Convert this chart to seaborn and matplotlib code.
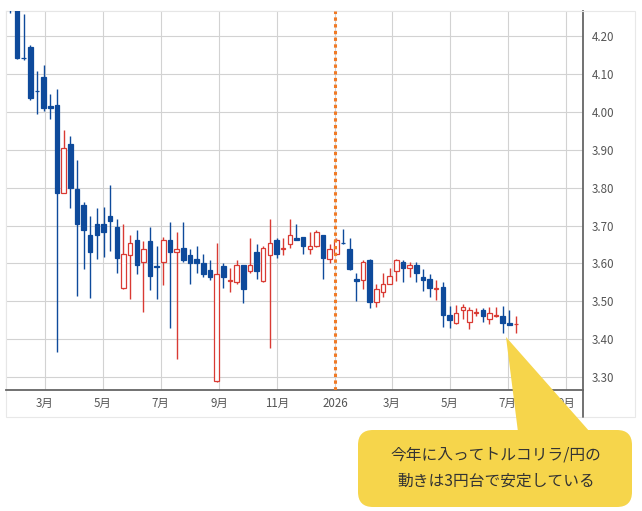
import pandas as pd
import matplotlib
matplotlib.use("Agg")
import matplotlib.pyplot as plt
from matplotlib.patches import FancyBboxPatch, Polygon, Rectangle
from matplotlib.lines import Line2D
import seaborn as sns

# Data: weekly candles (TRY/JPY)
start_week = "2025-01-24"
open_ = [4.34, 4.30, 4.143, 4.171, 4.056, 4.092, 4.016, 4.018, 3.787, 3.916,
         3.797, 3.753, 3.674, 3.703, 3.705, 3.726, 3.697, 3.534, 3.621, 3.663,
         3.605, 3.658, 3.593, 3.603, 3.661, 3.629, 3.640, 3.621, 3.611, 3.600,
         3.582, 3.289, 3.592, 3.554, 3.550, 3.595, 3.579, 3.629, 3.553, 3.621,
         3.661, 3.639, 3.650, 3.668, 3.671, 3.637, 3.647, 3.676, 3.611, 3.626,
         3.655, 3.637, 3.558, 3.555, 3.608, 3.497, 3.524, 3.545, 3.579, 3.603,
         3.587, 3.597, 3.563, 3.558, 3.533, 3.537, 3.463, 3.442, 3.476, 3.445,
         3.470, 3.476, 3.453, 3.462, 3.461, 3.442, 3.439]
high = [4.38, 4.31, 4.258, 4.176, 4.108, 4.124, 4.047, 4.061, 3.953, 3.937,
        3.874, 3.761, 3.724, 3.747, 3.750, 3.808, 3.718, 3.705, 3.676, 3.687,
        3.658, 3.697, 3.647, 3.671, 3.708, 3.682, 3.708, 3.637, 3.645, 3.624,
        3.608, 3.653, 3.600, 3.587, 3.608, 3.597, 3.666, 3.650, 3.645, 3.716,
        3.668, 3.668, 3.716, 3.703, 3.671, 3.684, 3.687, 3.676, 3.650, 3.668,
        3.692, 3.668, 3.576, 3.608, 3.611, 3.545, 3.574, 3.589, 3.611, 3.608,
        3.603, 3.603, 3.584, 3.571, 3.555, 3.550, 3.487, 3.490, 3.492, 3.484,
        3.482, 3.482, 3.484, 3.484, 3.487, 3.476, 3.461]
low = [4.26, 4.14, 4.138, 4.032, 3.995, 4.003, 3.982, 3.366, 3.785, 3.745,
       3.513, 3.584, 3.508, 3.611, 3.618, 3.632, 3.576, 3.532, 3.505, 3.571,
       3.471, 3.529, 3.505, 3.542, 3.429, 3.347, 3.605, 3.547, 3.576, 3.563,
       3.555, 3.287, 3.534, 3.524, 3.545, 3.495, 3.574, 3.558, 3.550, 3.376,
       3.613, 3.621, 3.640, 3.661, 3.626, 3.626, 3.642, 3.558, 3.600, 3.621,
       3.650, 3.582, 3.500, 3.532, 3.482, 3.484, 3.511, 3.545, 3.553, 3.550,
       3.563, 3.550, 3.526, 3.511, 3.503, 3.432, 3.429, 3.439, 3.453, 3.426,
       3.461, 3.445, 3.439, 3.458, 3.416, 3.437, 3.416]
close = [4.29, 4.142, 4.141, 4.037, 4.054, 4.011, 4.011, 3.787, 3.905, 3.800,
         3.705, 3.687, 3.629, 3.676, 3.682, 3.713, 3.613, 3.624, 3.653, 3.597,
         3.637, 3.568, 3.591, 3.663, 3.629, 3.637, 3.608, 3.600, 3.600, 3.571,
         3.563, 3.571, 3.563, 3.556, 3.595, 3.532, 3.595, 3.579, 3.640, 3.653,
         3.626, 3.641, 3.676, 3.663, 3.645, 3.647, 3.682, 3.613, 3.637, 3.661,
         3.653, 3.584, 3.553, 3.603, 3.497, 3.532, 3.547, 3.566, 3.608, 3.587,
         3.597, 3.574, 3.555, 3.534, 3.535, 3.463, 3.450, 3.468, 3.484, 3.476,
         3.472, 3.461, 3.468, 3.464, 3.442, 3.437, 3.441]

tick_dates = ["2025-03-01", "2025-05-01", "2025-07-01", "2025-09-01", "2025-11-01",
              "2026-01-01", "2026-03-01", "2026-05-01", "2026-07-01", "2026-09-01"]
tick_labels = ["3月", "5月", "7月", "9月", "11月", "2026", "3月", "5月", "7月", "9月"]
y_ticks = [3.3, 3.4, 3.5, 3.6, 3.7, 3.8, 3.9, 4.0, 4.1, 4.2]
marker_date = "2026-01-01"
note_lines = ["今年に入ってトルコリラ/円の", "動きは3円台で安定している"]

BLUE = "#0e4a9b"
RED = "#d93a33"
YELLOW = "#f6d54b"

sns.set_theme(style="whitegrid")
plt.rcParams["font.family"] = ["Noto Sans CJK JP", "DejaVu Sans"]

df = pd.DataFrame({"date": pd.date_range(start_week, periods=len(open_), freq="7D"),
                   "open": open_, "high": high, "low": low, "close": close})
df["up"] = df["close"] > df["open"]

fig = plt.figure(figsize=(6.42, 5.11), dpi=100)
ax = fig.add_axes([6 / 642, (511 - 390) / 511, 577 / 642, 379 / 511])
ax.set_facecolor("white")

# ヒゲ
colors = [RED if u else BLUE for u in df["up"]]
ax.vlines(df["date"], df["low"], df["high"], colors=colors, lw=1.0, zorder=3)

# 実体 (陽線=赤の中抜き, 陰線=青)
body_bottom = df[["open", "close"]].min(axis=1)
body_h = (df["close"] - df["open"]).abs().clip(lower=0.002)
up = df[df["up"]]
dn = df[~df["up"]]
ax.bar(up["date"], body_h[df["up"]], bottom=body_bottom[df["up"]], width=4.8,
       facecolor="white", edgecolor=RED, linewidth=0.9, zorder=4)
ax.bar(dn["date"], body_h[~df["up"]], bottom=body_bottom[~df["up"]], width=4.8,
       facecolor=BLUE, edgecolor=BLUE, linewidth=0.9, zorder=4)

# 2026 marker
ax.axvline(pd.Timestamp(marker_date), color="#f07a26", lw=2.2,
           linestyle=(0, (1.1, 1.1)), zorder=5)

ax.set_xlim(pd.Timestamp("2025-01-19 10:00"), pd.Timestamp("2026-09-18 10:00"))
ax.set_ylim(3.266, 4.266)

ax.set_xticks(pd.to_datetime(tick_dates))
ax.set_xticklabels(tick_labels)
ax.set_yticks(y_ticks)
ax.set_yticklabels([f"{v:.2f}" for v in y_ticks])
ax.yaxis.tick_right()
ax.tick_params(axis="both", length=0, labelsize=8.3, labelcolor="#555555")
ax.tick_params(axis="y", pad=6)
ax.tick_params(axis="x", pad=5)
ax.grid(True, color="#d2d2d2", lw=0.8)
ax.set_axisbelow(True)

for side in ["top", "left"]:
    ax.spines[side].set_color("#e6e6e6")
    ax.spines[side].set_linewidth(0.8)
for side in ["bottom", "right"]:
    ax.spines[side].set_color("#666666")
    ax.spines[side].set_linewidth(1.3)

# outer frame and extension of the price axis
fig.add_artist(Rectangle((6 / 642, (511 - 417) / 511), 629 / 642, 406 / 511,
                         transform=fig.transFigure, fill=False,
                         edgecolor="#e8e8e8", lw=0.8, zorder=0))
fig.add_artist(Line2D([583 / 642, 583 / 642], [(511 - 390) / 511, (511 - 417) / 511],
                      transform=fig.transFigure, color="#666666", lw=1.3))

# callout
tri = Polygon([(5.06, (511 - 337) / 100), (5.18, (511 - 432) / 100), (5.90, (511 - 432) / 100)],
              closed=True, facecolor=YELLOW, edgecolor="none",
              transform=fig.dpi_scale_trans, zorder=10)
fig.add_artist(tri)
box = FancyBboxPatch((3.58, 0.04), 2.74, 0.77,
                     boxstyle="round,pad=0,rounding_size=0.15",
                     facecolor=YELLOW, edgecolor="none",
                     transform=fig.dpi_scale_trans, zorder=10)
fig.add_artist(box)
fig.text(4.96, (511 - 455) / 100, note_lines[0], transform=fig.dpi_scale_trans,
         ha="center", va="center", fontsize=11.3, color="#333333", zorder=11)
fig.text(4.96, (511 - 481) / 100, note_lines[1], transform=fig.dpi_scale_trans,
         ha="center", va="center", fontsize=11.3, color="#333333", zorder=11)

fig.savefig("out.png", dpi=100)
